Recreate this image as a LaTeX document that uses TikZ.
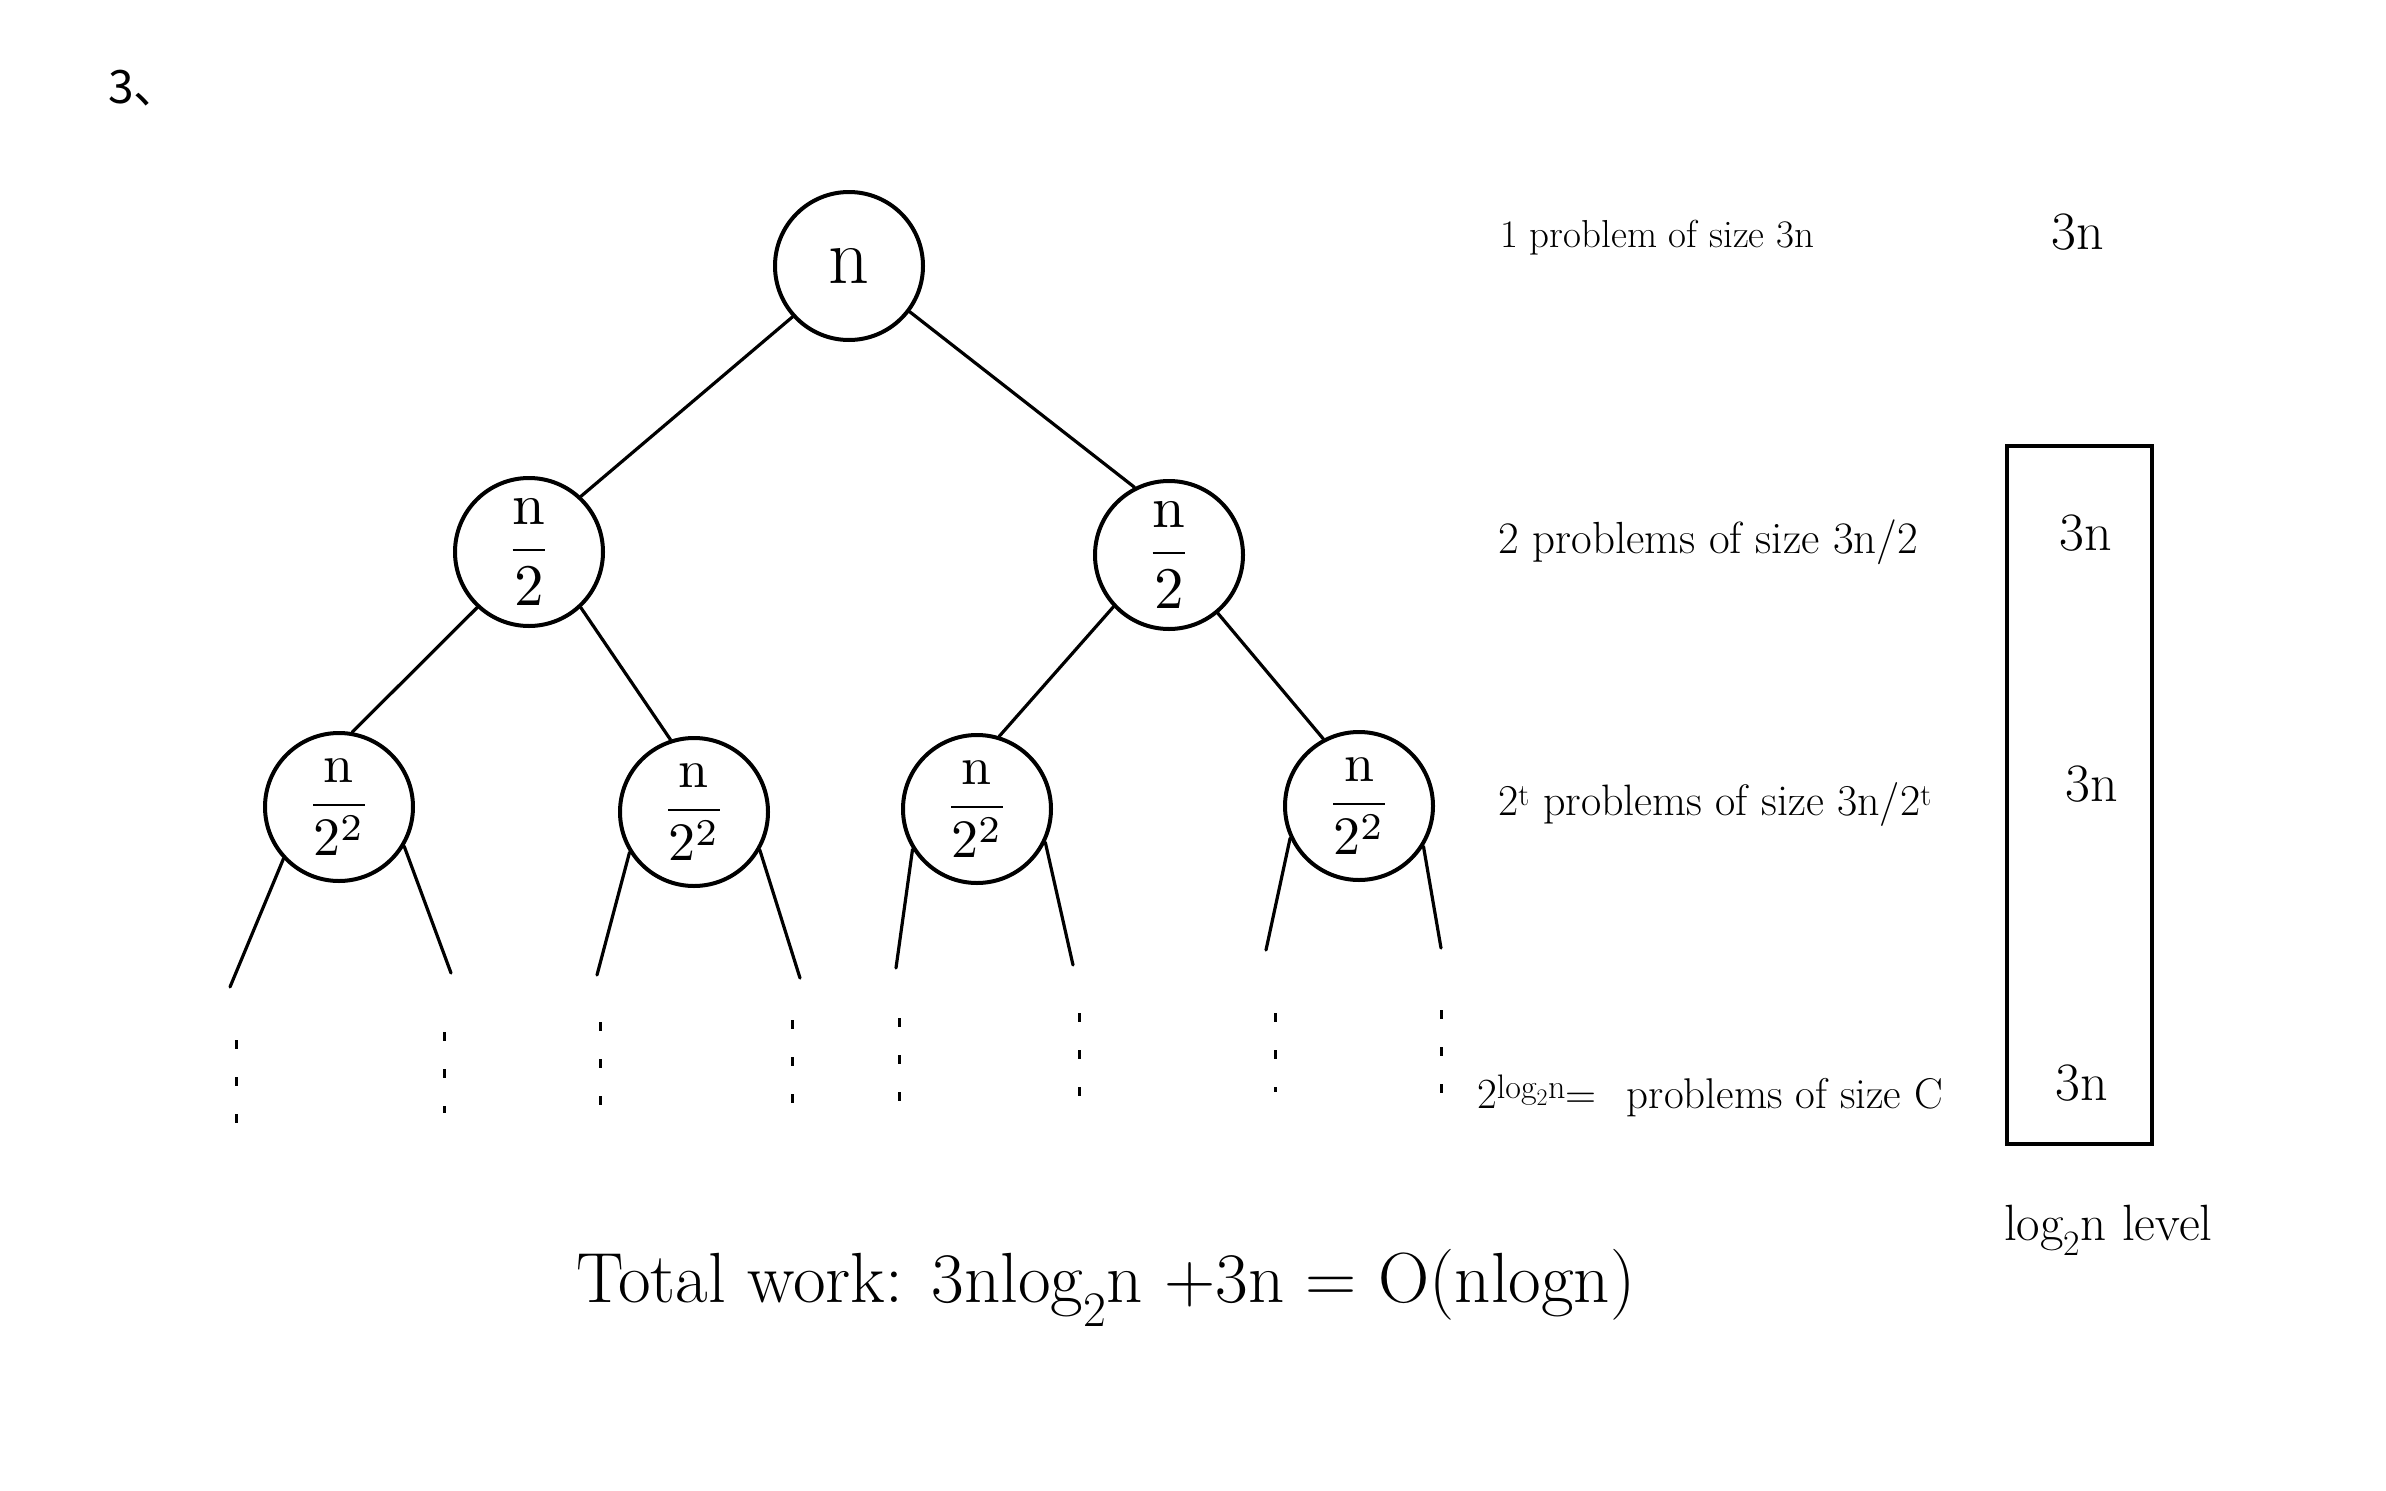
\documentclass[tikz,border=0pt]{standalone}
\usepackage{fontspec}
\usepackage{graphicx}
\newfontfamily\cjkfont{Noto Sans CJK SC}
\usetikzlibrary{shapes.geometric}
\newcommand{\bigfrac}[3]{\scalebox{#1}{$\displaystyle\frac{\mathrm{n}}{#2#3}$}}
\tikzset{
  tnode/.style={draw, circle, line width=4pt, minimum size=148pt, inner sep=0pt},
  tedge/.style={line width=3.2pt, line cap=round},
  dotcol/.style={line width=3pt, dash pattern=on 9pt off 28pt},
  lbl/.style={inner sep=0pt, anchor=base west},
  val/.style={inner sep=0pt, font=\fontsize{54}{60}\selectfont}
}
\begin{document}
\begin{tikzpicture}[x=1pt,y=-1pt]
\useasboundingbox (0,0) rectangle (2386,1491);
\fill[white] (0,0) rectangle (2386,1491);

\node[lbl] (num) at (108,103) {\cjkfont\fontsize{46}{50}\selectfont 3、};

% tree nodes
\node[tnode] (r) at (849,266) {\fontsize{80}{84}\selectfont n};
\node[tnode] (a) at (529,552) {\bigfrac{5.9}{2}{}};
\node[tnode] (b) at (1169,555) {\bigfrac{5.9}{2}{}};
\node[tnode] (c1) at (339,807) {\bigfrac{5.4}{2}{^2}};
\node[tnode] (c2) at (694,812) {\bigfrac{5.4}{2}{^2}};
\node[tnode] (c3) at (977,809) {\bigfrac{5.4}{2}{^2}};
\node[tnode] (c4) at (1359,806) {\bigfrac{5.4}{2}{^2}};

% edges
\draw[tedge] (r.222) -- (a.47);
\draw[tedge] (r.-37) -- (b.117);
\draw[tedge] (a.227) -- (c1.80);
\draw[tedge] (a.-47) -- (c2.108);
\draw[tedge] (b.223) -- (c3.73);
\draw[tedge] (b.-50) -- (c4.118);

% free ends of the lowest branches
\coordinate (e1l) at (230,987);  \coordinate (e1r) at (451,973);
\coordinate (e2l) at (597,975);  \coordinate (e2r) at (800,978);
\coordinate (e3l) at (896,968);  \coordinate (e3r) at (1073,965);
\coordinate (e4l) at (1266,950); \coordinate (e4r) at (1441,948);
\draw[tedge] (c1.223) -- (e1l);
\draw[tedge] (c1.-31) -- (e1r);
\draw[tedge] (c2.212) -- (e2l);
\draw[tedge] (c2.-30) -- (e2r);
\draw[tedge] (c3.212) -- (e3l);
\draw[tedge] (c3.-26) -- (e3r);
\draw[tedge] (c4.205) -- (e4l);
\draw[tedge] (c4.-32) -- (e4r);

% vertical dotted continuations
\foreach \n/\x/\ya/\yb in {1/236/1040/1123, 2/444/1032/1113, 3/600/1022/1107, 4/792/1020/1103,
  5/899/1018/1107, 6/1079/1013/1102, 7/1275/1013/1092, 8/1441/1010/1100}{
  \coordinate (p\n t) at (\x,\ya);
  \coordinate (p\n b) at (\x,\yb);
  \draw[dotcol] (p\n t) -- (p\n b);
}

% level descriptions
\node[lbl] (t1) at (1500,247) {\fontsize{39}{44}\selectfont 1 problem of size 3n};
\node[lbl] (t2) at (1498,553) {\fontsize{45}{50}\selectfont 2 problems of size 3n/2};
\node[lbl] (t3) at (1498,815) {\fontsize{44}{50}\selectfont 2\textsuperscript{t} problems of size 3n/2\textsuperscript{t}};
\node[lbl] (t4) at (1477,1108) {\fontsize{43}{50}\selectfont 2\textsuperscript{\fontsize{34}{38}\selectfont log\textsubscript{2}n}=\hspace{0.7em}problems of size C};

% level costs
\node[val] (v0) at (2078,232) {3n};
\node[draw, line width=3.5pt, minimum width=145pt, minimum height=698pt, inner sep=0pt] (box) at (2079.5,795) {};
\node[val] (v1) at (2086,533) {3n};
\node[val] (v2) at (2092,784) {3n};
\node[val] (v3) at (2082,1083) {3n};
\node[lbl] (lv) at (2004,1240) {\fontsize{51}{56}\selectfont log\textsubscript{2}n level};

% total
\node[lbl] (tw) at (576,1302) {\fontsize{71}{78}\selectfont Total work: 3nlog\textsubscript{2}n +3n = O(nlogn)};
\end{tikzpicture}
\end{document}
